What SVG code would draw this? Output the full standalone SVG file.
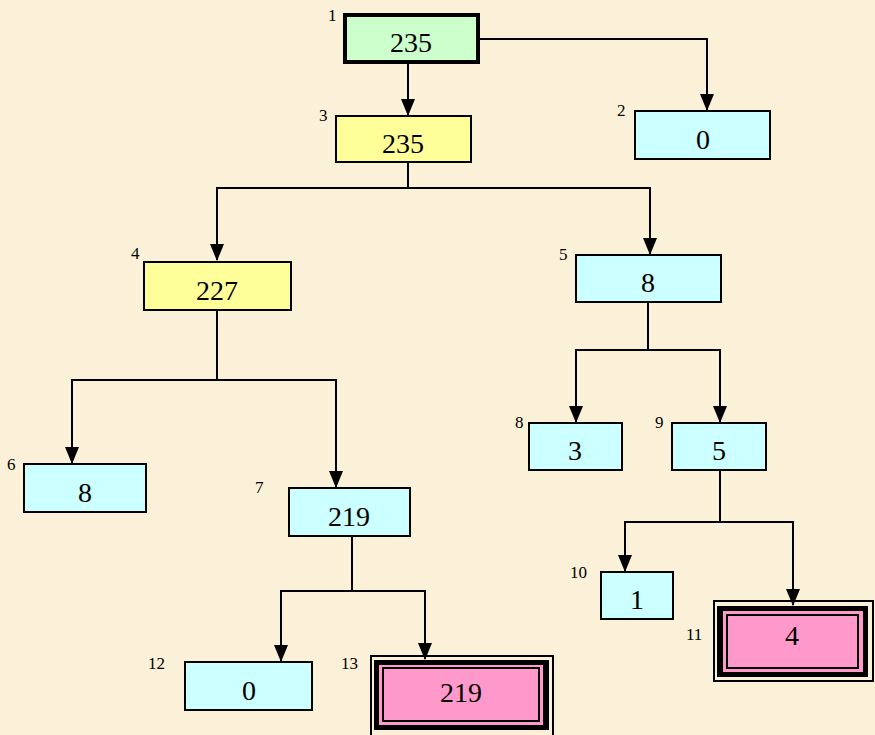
<svg xmlns="http://www.w3.org/2000/svg" width="875" height="735" viewBox="0 0 875 735">
<defs>
<marker id="ah" markerUnits="userSpaceOnUse" markerWidth="14" markerHeight="17" refX="7" refY="16" orient="0" viewBox="0 0 14 17">
<path d="M0,0 L14,0 L7,17 Z" fill="#000"/>
</marker>
</defs>
<style>
.bg{fill:#FBF1D8}
.n{stroke:#000;stroke-width:2}
.cyan{fill:#CCFFFF}
.yel{fill:#FFFF99}
.grn{fill:#CCFFCC}
.pink{fill:#FF99CC}
.v{font-family:"Liberation Serif","Times New Roman",serif;font-size:28px;text-anchor:middle;fill:#000}
.l{font-family:"Liberation Serif","Times New Roman",serif;font-size:17px;fill:#000}
.c{fill:none;stroke:#000;stroke-width:2}
</style>
<rect class="bg" x="0" y="0" width="875" height="735"/>
<g id="connectors">
<path class="c" d="M479,39 H707 V110" marker-end="url(#ah)"/>
<path class="c" d="M408,64 V115" marker-end="url(#ah)"/>
<path class="c" d="M408,162 V188 H217 V260" marker-end="url(#ah)"/>
<path class="c" d="M408,188 H650 V254" marker-end="url(#ah)"/>
<path class="c" d="M217,310 V380 H72 V463" marker-end="url(#ah)"/>
<path class="c" d="M217,380 H336 V487" marker-end="url(#ah)"/>
<path class="c" d="M648,302 V350 H576 V422" marker-end="url(#ah)"/>
<path class="c" d="M648,350 H720 V422" marker-end="url(#ah)"/>
<path class="c" d="M720,470 V522 H625 V571" marker-end="url(#ah)"/>
<path class="c" d="M720,522 H793 V605" marker-end="url(#ah)"/>
<path class="c" d="M352,536 V591 H281 V661" marker-end="url(#ah)"/>
<path class="c" d="M352,591 H425 V659" marker-end="url(#ah)"/>
</g>
<g id="node1">
<rect class="grn" x="345" y="15" width="133" height="47" stroke="#000" stroke-width="4"/>
<text class="v" x="411" y="52">235</text>
<text class="l" x="328" y="21">1</text>
</g>
<g id="node2">
<rect class="n cyan" x="635" y="111" width="135" height="48"/>
<text class="v" x="703" y="149">0</text>
<text class="l" x="617" y="116">2</text>
</g>
<g id="node3">
<rect class="n yel" x="336" y="116" width="135" height="46"/>
<text class="v" x="403" y="153">235</text>
<text class="l" x="319" y="121">3</text>
</g>
<g id="node4">
<rect class="n yel" x="144" y="262" width="147" height="48"/>
<text class="v" x="217" y="300">227</text>
<text class="l" x="131" y="259">4</text>
</g>
<g id="node5">
<rect class="n cyan" x="576" y="255" width="145" height="47"/>
<text class="v" x="648" y="292">8</text>
<text class="l" x="559" y="260">5</text>
</g>
<g id="node6">
<rect class="n cyan" x="24" y="464" width="122" height="48"/>
<text class="v" x="85" y="502">8</text>
<text class="l" x="7" y="470">6</text>
</g>
<g id="node7">
<rect class="n cyan" x="289" y="488" width="121" height="48"/>
<text class="v" x="349" y="526">219</text>
<text class="l" x="255" y="493">7</text>
</g>
<g id="node8">
<rect class="n cyan" x="529" y="423" width="93" height="47"/>
<text class="v" x="575" y="460">3</text>
<text class="l" x="515" y="428">8</text>
</g>
<g id="node9">
<rect class="n cyan" x="672" y="423" width="94" height="47"/>
<text class="v" x="719" y="460">5</text>
<text class="l" x="655" y="428">9</text>
</g>
<g id="node10">
<rect class="n cyan" x="601" y="572" width="72" height="47"/>
<text class="v" x="637" y="609">1</text>
<text class="l" x="570" y="578">10</text>
</g>
<g id="node11">
<rect x="714" y="601" width="159" height="80" fill="none" stroke="#000" stroke-width="2"/>
<rect x="717" y="606" width="151" height="71" fill="#000"/>
<rect class="pink" x="723" y="611" width="140" height="61"/>
<rect class="pink" x="727" y="615" width="131" height="53" stroke="#000" stroke-width="2"/>
<text class="v" x="792" y="645">4</text>
<text class="l" x="686" y="640">11</text>
</g>
<g id="node12">
<rect class="n cyan" x="185" y="662" width="127" height="48"/>
<text class="v" x="249" y="700">0</text>
<text class="l" x="148" y="669">12</text>
</g>
<g id="node13">
<rect x="371" y="656" width="182" height="80" fill="none" stroke="#000" stroke-width="2"/>
<rect x="374" y="660" width="175" height="70" fill="#000"/>
<rect class="pink" x="379" y="665" width="164" height="60"/>
<rect class="pink" x="383" y="668" width="156" height="53" stroke="#000" stroke-width="2"/>
<text class="v" x="461" y="702">219</text>
<text class="l" x="341" y="669">13</text>
</g>
</svg>
